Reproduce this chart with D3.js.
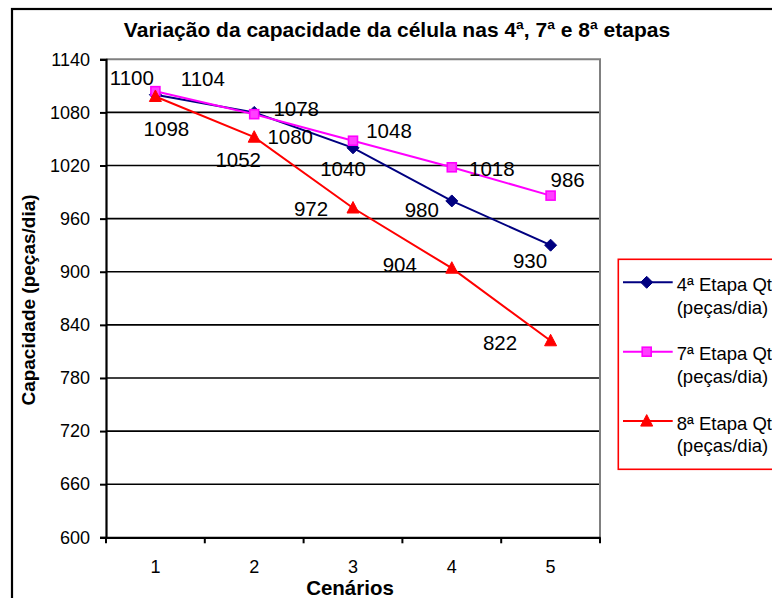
<!DOCTYPE html>
<html>
<head>
<meta charset="utf-8">
<script src="https://cdn.jsdelivr.net/npm/d3@7"></script>
<style>
  html, body { margin: 0; padding: 0; background: #fff; }
  svg { display: block; font-family: "Liberation Sans", Arial, sans-serif; }
</style>
</head>
<body>
<svg id="chart" width="772" height="598"></svg>
<script>
// ---- data ----
const categories = ["1", "2", "3", "4", "5"];
const yTicks = [600, 660, 720, 780, 840, 900, 960, 1020, 1080, 1140];
const seriesNames = ["4ª Etapa Qt (peças/dia)", "7ª Etapa Qt (peças/dia)", "8ª Etapa Qt (peças/dia)"];
const etapa4 = [1100, 1080, 1040, 980, 930];
const etapa7 = [1104, 1078, 1048, 1018, 986];
const etapa8 = [1098, 1052, 972, 904, 822];
const titleText = "Variação da capacidade da célula nas 4ª, 7ª e 8ª etapas";
const xTitle = "Cenários";
const yTitle = "Capacidade (peças/dia)";

// ---- layout / style (not data) ----
const labelOffsets = [
  [[-23.5, -10], [36, 31.5], [-10, 28], [-30, 15.7], [-20.6, 23]],
  [[47.5, -5], [42, 2], [36, -2.5], [40, 8.6], [17, -9]],
  [[11, 39.5], [-16, 30], [-42, 8], [-52, 3.4], [-50.6, 9]]
];
const colors = ["#000080", "#ff00ff", "#ff0000"];
const shapes = ["diamond", "square", "triangle"];

const svg = d3.select("#chart");
const plot = { left: 106, right: 600, top: 59.3, bottom: 537.3 };

const x = d3.scaleBand().domain(categories).range([plot.left, plot.right]).padding(0);
const y = d3.scaleLinear().domain([600, 1140]).range([plot.bottom, plot.top]);
const cx = c => x(c) + x.bandwidth() / 2;

// outer chart border
svg.append("rect").attr("x", 12).attr("y", 9).attr("width", 800).attr("height", 700)
  .attr("fill", "none").attr("stroke", "#000").attr("stroke-width", 2.2);

// title
svg.append("text").attr("x", 397).attr("y", 37).attr("text-anchor", "middle")
  .attr("font-size", 21).attr("font-weight", "bold").text(titleText);

// gridlines
svg.append("g").selectAll("line").data(yTicks.filter(t => t > 600 && t < 1140)).join("line")
  .attr("x1", plot.left).attr("x2", plot.right)
  .attr("y1", d => y(d)).attr("y2", d => y(d))
  .attr("stroke", "#000").attr("stroke-width", 1.6);

// plot area border (top/right grey)
svg.append("path")
  .attr("d", `M${plot.left},${plot.top}H${plot.right}V${plot.bottom}`)
  .attr("fill", "none").attr("stroke", "#808080").attr("stroke-width", 2);

// y axis
const yAxis = svg.append("g").attr("transform", `translate(${plot.left},0)`)
  .call(d3.axisLeft(y).tickValues(yTicks).tickSize(6).tickPadding(10).tickFormat(d3.format("d")));
yAxis.select(".domain").attr("stroke", "#000").attr("stroke-width", 2.2);
yAxis.selectAll(".tick line").attr("stroke", "#000").attr("stroke-width", 2);
yAxis.selectAll(".tick text").attr("font-size", 18).attr("fill", "#000")
  .attr("font-family", "Liberation Sans, Arial, sans-serif");

// x axis
const xAxis = svg.append("g").attr("transform", `translate(0,${plot.bottom})`)
  .call(d3.axisBottom(x).tickSize(0).tickPadding(23));
xAxis.select(".domain").attr("stroke", "#000").attr("stroke-width", 2.2);
xAxis.selectAll(".tick text").attr("font-size", 18).attr("fill", "#000")
  .attr("font-family", "Liberation Sans, Arial, sans-serif");
// x boundary ticks
const xBounds = categories.map(c => x(c)).concat([x(categories[categories.length - 1]) + x.bandwidth()]);
svg.append("g").selectAll("line").data(xBounds).join("line")
  .attr("x1", d => d).attr("x2", d => d)
  .attr("y1", plot.bottom).attr("y2", plot.bottom + 6)
  .attr("stroke", "#000").attr("stroke-width", 2);

// axis titles
svg.append("text").attr("x", 350).attr("y", 595).attr("text-anchor", "middle")
  .attr("font-size", 20.5).attr("font-weight", "bold").text(xTitle);
svg.append("text").attr("transform", "translate(35,300) rotate(-90)").attr("text-anchor", "middle")
  .attr("font-size", 19).attr("font-weight", "bold").text(yTitle);

// markers
function marker(g, shape, color, px, py) {
  if (shape === "diamond") {
    g.append("path").attr("d", `M${px},${py - 6}L${px + 6},${py}L${px},${py + 6}L${px - 6},${py}Z`)
      .attr("fill", color).attr("stroke", color).attr("stroke-width", 1);
  } else if (shape === "square") {
    g.append("rect").attr("x", px - 4.5).attr("y", py - 4.5).attr("width", 9).attr("height", 9)
      .attr("fill", "#ff40ff").attr("stroke", color).attr("stroke-width", 1.6);
  } else {
    g.append("path").attr("d", `M${px},${py - 6.5}L${px + 6},${py + 5}L${px - 6},${py + 5}Z`)
      .attr("fill", color).attr("stroke", color).attr("stroke-width", 1);
  }
}

const allSeries = [etapa4, etapa7, etapa8];
const line = d3.line().x((d, i) => cx(categories[i])).y(d => y(d));
allSeries.forEach((vals, s) => {
  const g = svg.append("g");
  g.append("path").datum(vals).attr("d", line).attr("fill", "none")
    .attr("stroke", colors[s]).attr("stroke-width", 2);
  vals.forEach((v, i) => marker(g, shapes[s], colors[s], cx(categories[i]), y(v)));
});

// data labels
allSeries.forEach((vals, s) => {
  svg.append("g").selectAll("text").data(vals).join("text")
    .attr("x", (d, i) => cx(categories[i]) + labelOffsets[s][i][0])
    .attr("y", (d, i) => y(d) + labelOffsets[s][i][1])
    .attr("text-anchor", "middle").attr("font-size", 20.5).attr("fill", "#000")
    .text(d => d);
});

// legend
const leg = svg.append("g");
leg.append("rect").attr("x", 618.3).attr("y", 259.3).attr("width", 200).attr("height", 210)
  .attr("fill", "#fff").attr("stroke", "#ff0000").attr("stroke-width", 1.6);
seriesNames.forEach((name, s) => {
  const ly = 282.3 + s * 69.4;
  leg.append("line").attr("x1", 623).attr("x2", 672.7).attr("y1", ly).attr("y2", ly)
    .attr("stroke", colors[s]).attr("stroke-width", 2);
  marker(leg, shapes[s], colors[s], 646.7, ly);
  const parts = name.split(" (");
  const t = leg.append("text").attr("x", 676.7).attr("y", ly + 8.4).attr("font-size", 18.5);
  t.append("tspan").attr("x", 676.7).text(parts[0]);
  t.append("tspan").attr("x", 676.7).attr("dy", 22.8).text("(" + parts[1]);
});
</script>
</body>
</html>
